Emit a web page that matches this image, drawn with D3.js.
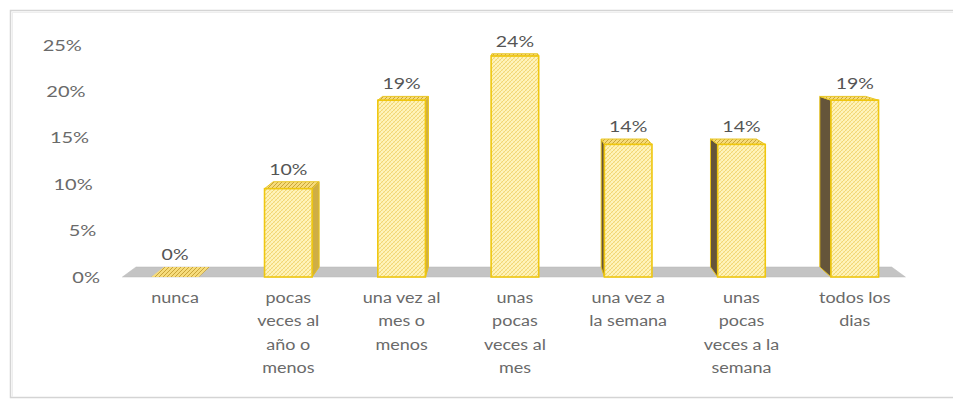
<!DOCTYPE html>
<html><head><meta charset="utf-8">
<script src="https://cdn.jsdelivr.net/npm/d3@7"></script>
<style>body{margin:0;background:#fff}svg{display:block}</style>
</head><body><svg id="c" width="953" height="401"></svg>
<script>
// ---- data ----
const categories = ["nunca","pocas veces al año o menos","una vez al mes o menos","unas pocas veces al mes","una vez a la semana","unas pocas veces a la semana","todos los dias"];
const categoryLines = [["nunca"],["pocas","veces al","año o","menos"],["una vez al","mes o","menos"],["unas","pocas","veces al","mes"],["una vez a","la semana"],["unas","pocas","veces a la","semana"],["todos los","dias"]];
const values = [0, 0.0952, 0.1905, 0.2381, 0.1429, 0.1429, 0.1905];
const yTicks = [0, 0.05, 0.10, 0.15, 0.20, 0.25];

const svg = d3.select("#c");
const fmt = d3.format(".0%");
const font = "Lato, 'Open Sans', Calibri, sans-serif";

// frame
svg.append("rect").attr("x",10.5).attr("y",10.5).attr("width",960).attr("height",387)
  .attr("fill","#fff").attr("stroke","#d4d4d4").attr("stroke-width",1.5);
svg.append("line").attr("x1",12).attr("x2",960).attr("y1",12.5).attr("y2",12.5).attr("stroke","#eeeeee");
svg.append("line").attr("x1",12.5).attr("x2",12.5).attr("y1",12).attr("y2",397).attr("stroke","#eeeeee");

// patterns
const defs = svg.append("defs");
const pf = defs.append("pattern").attr("id","pFront").attr("width",4).attr("height",4).attr("patternUnits","userSpaceOnUse");
pf.append("rect").attr("width",4).attr("height",4).attr("fill","#fff4bc");
pf.append("path").attr("d","M-1,1 L1,-1 M0,4 L4,0 M3,5 L5,3").attr("stroke","#f1d46c").attr("stroke-width",0.9);
pf.append("path").attr("d","M0,0 L4,4").attr("stroke","#f7e394").attr("stroke-width",0.6);
const pt = defs.append("pattern").attr("id","pTop").attr("width",4).attr("height",4).attr("patternUnits","userSpaceOnUse");
pt.append("rect").attr("width",4).attr("height",4).attr("fill","#f6dc7c");
pt.append("path").attr("d","M-1,1 L1,-1 M0,4 L4,0 M3,5 L5,3").attr("stroke","#c9a43a").attr("stroke-width",1);

// scales
const x = d3.scaleBand().domain(categories).range([118.4, 911.4]).paddingInner(0.58).paddingOuter(0.29);
const y = d3.scaleLinear().domain([0, 0.25]).range([277, 45]);

// perspective projection toward vanishing point
const cx = 512, vy = -9, s = 0.965;
const proj = ([px, py]) => [cx + (px - cx) * s, vy + (py - vy) * s];
const poly = pts => "M" + pts.map(p => p.join(",")).join("L") + "Z";

// floor
const fl0 = [x.range()[0] + 4, y(0)], fl1 = [x.range()[1] - 6, y(0)];
svg.append("path").attr("d", poly([fl0, fl1, proj(fl1), proj(fl0)]))
  .attr("fill","#c4c4c4").attr("stroke","#b8b8b8").attr("stroke-width",0.5);

// bars
const bars = svg.append("g");
categories.forEach((c, i) => {
  const v = values[i];
  const x0 = x(c), x1 = x0 + x.bandwidth();
  const yT = y(v), yB = y(0);
  const g = bars.append("g");
  const mid = (x0 + x1) / 2;
  if (v > 0) {
    if (mid < cx - 5) {
      g.append("path").attr("d", poly([[x1,yT], proj([x1,yT]), proj([x1,yB]), [x1,yB]]))
        .attr("fill","#cfae45").attr("stroke","#e8c31a").attr("stroke-width",1);
    } else if (mid > cx + 5) {
      g.append("path").attr("d", poly([[x0,yT], proj([x0,yT]), proj([x0,yB]), [x0,yB]]))
        .attr("fill","#65553a").attr("stroke","#e8c31a").attr("stroke-width",1);
    }
  }
  g.append("path").attr("d", poly([[x0,yT],[x1,yT], proj([x1,yT]), proj([x0,yT])]))
    .attr("fill","url(#pTop)").attr("stroke", v > 0 ? "#eac722" : "none").attr("stroke-width",1);
  if (v > 0) {
    g.append("rect").attr("x",x0).attr("y",yT).attr("width",x1-x0).attr("height",yB-yT)
      .attr("fill","url(#pFront)").attr("stroke","#efc70f").attr("stroke-width",1.6);
  }
  // value label
  const topY = proj([x0, yT])[1];
  svg.append("g").attr("transform",`translate(${mid},${topY - 7}) scale(1.22,1)`)
    .append("text").attr("text-anchor","middle").attr("font-family",font).attr("font-size",16)
    .attr("fill","#555555").text(fmt(v));
});

// y axis (tick labels on slanted wall edge)
const yAxis = d3.axisLeft(y).tickValues(yTicks).tickFormat(fmt).tickSize(0).tickPadding(0);
const ya = svg.append("g").call(yAxis);
ya.select(".domain").remove();
ya.selectAll(".tick").attr("transform", d => `translate(${100 - (277 - y(d)) * 0.078},${y(d)}) scale(1.25,1)`);
ya.selectAll(".tick text").attr("font-family",font).attr("font-size",16)
  .attr("fill","#6a6a6a").attr("dy","0.35em");

// x axis labels
const xa = svg.append("g");
categories.forEach((c, i) => {
  const t = xa.append("g").attr("transform",`translate(${x(c) + x.bandwidth()/2},303) scale(1.2,1)`)
    .append("text").attr("text-anchor","middle").attr("font-family",font).attr("font-size",15)
    .attr("fill","#6a6a6a");
  categoryLines[i].forEach((ln, k) => t.append("tspan").attr("x",0).attr("y",k*23.5).text(ln));
});
</script></body></html>
